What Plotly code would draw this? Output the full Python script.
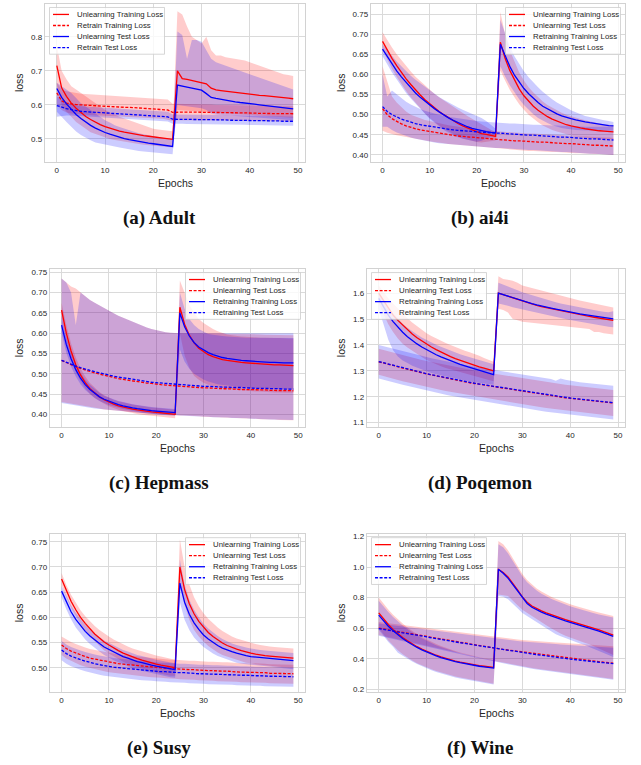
import plotly.graph_objects as go

W, H = 641, 765
epochs = list(range(50))

# ---------------- (a) Adult ----------------
a_ut = [0.715,0.650,0.625,0.605,0.590,0.577,0.566,0.557,0.549,0.542,
        0.536,0.531,0.527,0.523,0.520,0.517,0.514,0.512,0.510,0.508,
        0.506,0.504,0.502,0.501,0.499,0.700,0.677,0.675,0.672,0.669,
        0.667,0.662,0.649,0.644,0.642,0.640,0.638,0.636,0.635,0.634,
        0.631,0.630,0.628,0.627,0.626,0.625,0.623,0.621,0.620,0.618]
a_ut_hi = [0.775,0.700,0.675,0.655,0.645,0.635,0.625,0.615,0.605,0.595,
           0.585,0.578,0.571,0.565,0.560,0.555,0.550,0.545,0.540,0.535,
           0.530,0.528,0.526,0.525,0.523,0.875,0.865,0.830,0.800,0.790,
           0.780,0.800,0.760,0.745,0.745,0.740,0.738,0.735,0.732,0.730,
           0.725,0.720,0.715,0.710,0.705,0.700,0.695,0.690,0.688,0.685]
a_ut_lo = [0.660,0.600,0.580,0.565,0.550,0.540,0.530,0.520,0.515,0.510,
           0.505,0.500,0.497,0.494,0.491,0.489,0.487,0.485,0.483,0.481,
           0.480,0.478,0.477,0.476,0.475,0.585,0.585,0.584,0.583,0.582,
           0.581,0.580,0.579,0.578,0.577,0.576,0.575,0.574,0.573,0.572,
           0.571,0.570,0.569,0.568,0.567,0.566,0.565,0.564,0.563,0.562]
a_rt = [0.635,0.612,0.605,0.602,0.601,0.600,0.599,0.598,0.597,0.597,
        0.596,0.595,0.595,0.594,0.593,0.593,0.592,0.591,0.590,0.589,
        0.588,0.588,0.587,0.585,0.578,0.579,0.579,0.579,0.579,0.578,
        0.578,0.578,0.578,0.578,0.577,0.577,0.577,0.577,0.576,0.576,
        0.576,0.576,0.575,0.575,0.575,0.575,0.575,0.574,0.574,0.574]
a_rt_hi = [0.665,0.645,0.640,0.637,0.635,0.633,0.632,0.631,0.630,0.630,
           0.629,0.628,0.628,0.627,0.626,0.625,0.624,0.623,0.622,0.621,
           0.620,0.619,0.618,0.616,0.603,0.603,0.602,0.602,0.602,0.601,
           0.601,0.601,0.601,0.600,0.600,0.600,0.600,0.599,0.599,0.599,
           0.599,0.598,0.598,0.598,0.598,0.597,0.597,0.597,0.597,0.596]
a_rt_lo = [0.600,0.585,0.578,0.575,0.573,0.572,0.571,0.570,0.569,0.569,
           0.568,0.567,0.567,0.566,0.565,0.565,0.564,0.563,0.562,0.561,
           0.560,0.560,0.559,0.557,0.553,0.555,0.556,0.556,0.556,0.555,
           0.555,0.555,0.555,0.555,0.554,0.554,0.554,0.554,0.553,0.553,
           0.553,0.553,0.552,0.552,0.552,0.552,0.552,0.551,0.551,0.551]
a_ute = [0.648,0.622,0.603,0.587,0.572,0.560,0.549,0.540,0.532,0.525,
         0.519,0.514,0.509,0.505,0.501,0.498,0.495,0.493,0.490,0.488,
         0.486,0.484,0.482,0.480,0.478,0.658,0.654,0.652,0.649,0.646,
         0.643,0.633,0.622,0.619,0.616,0.613,0.611,0.609,0.607,0.606,
         0.604,0.602,0.600,0.598,0.597,0.595,0.594,0.592,0.590,0.588]
a_ute_hi = [0.665,0.655,0.645,0.635,0.620,0.605,0.595,0.585,0.575,0.565,
            0.555,0.548,0.540,0.535,0.530,0.525,0.520,0.517,0.514,0.511,
            0.508,0.505,0.503,0.501,0.500,0.815,0.805,0.735,0.790,0.790,
            0.785,0.760,0.735,0.725,0.720,0.715,0.710,0.705,0.700,0.695,
            0.690,0.685,0.680,0.675,0.670,0.665,0.660,0.655,0.650,0.645]
a_ute_lo = [0.580,0.565,0.550,0.535,0.522,0.512,0.503,0.496,0.490,0.487,
            0.484,0.482,0.478,0.475,0.472,0.469,0.467,0.465,0.463,0.461,
            0.460,0.458,0.457,0.456,0.455,0.600,0.598,0.596,0.594,0.592,
            0.590,0.585,0.575,0.572,0.570,0.568,0.567,0.566,0.565,0.564,
            0.563,0.562,0.561,0.560,0.559,0.558,0.557,0.556,0.556,0.555]
a_rte = [0.598,0.593,0.589,0.586,0.583,0.581,0.580,0.579,0.578,0.577,
         0.576,0.575,0.574,0.574,0.573,0.572,0.571,0.570,0.569,0.568,
         0.567,0.566,0.566,0.565,0.558,0.558,0.558,0.557,0.557,0.557,
         0.557,0.557,0.556,0.556,0.556,0.556,0.555,0.555,0.555,0.555,
         0.554,0.554,0.554,0.554,0.553,0.553,0.553,0.552,0.552,0.552]
a_rte_hi = [0.625,0.615,0.607,0.602,0.598,0.596,0.595,0.594,0.593,0.592,
            0.591,0.590,0.589,0.589,0.588,0.587,0.586,0.585,0.584,0.583,
            0.582,0.581,0.581,0.580,0.572,0.572,0.572,0.571,0.571,0.571,
            0.571,0.571,0.570,0.570,0.570,0.570,0.569,0.569,0.569,0.569,
            0.568,0.568,0.568,0.568,0.567,0.567,0.567,0.566,0.566,0.566]
a_rte_lo = [0.565,0.568,0.569,0.569,0.568,0.567,0.566,0.565,0.564,0.563,
            0.562,0.561,0.560,0.560,0.559,0.558,0.557,0.556,0.555,0.554,
            0.553,0.552,0.552,0.551,0.545,0.545,0.545,0.544,0.544,0.544,
            0.544,0.544,0.543,0.543,0.543,0.543,0.542,0.542,0.542,0.542,
            0.541,0.541,0.541,0.541,0.540,0.540,0.540,0.539,0.539,0.539]

# ---------------- (b) ai4i ----------------
b_ut = [0.682,0.660,0.640,0.622,0.605,0.589,0.575,0.561,0.549,0.537,
        0.527,0.517,0.508,0.500,0.492,0.485,0.478,0.472,0.467,0.462,
        0.457,0.453,0.451,0.449,0.446,0.680,0.640,0.610,0.585,0.564,
        0.547,0.533,0.521,0.511,0.502,0.495,0.489,0.484,0.479,0.475,
        0.472,0.469,0.467,0.465,0.463,0.461,0.460,0.459,0.458,0.457]
b_ut_hi = [0.705,0.685,0.667,0.650,0.635,0.620,0.607,0.594,0.583,0.572,
           0.562,0.552,0.543,0.535,0.527,0.519,0.511,0.504,0.497,0.490,
           0.483,0.476,0.470,0.463,0.456,0.755,0.700,0.660,0.630,0.605,
           0.585,0.568,0.555,0.543,0.533,0.524,0.517,0.511,0.505,0.500,
           0.496,0.492,0.489,0.486,0.483,0.480,0.478,0.476,0.475,0.474]
b_ut_lo = [0.660,0.636,0.614,0.594,0.576,0.559,0.543,0.529,0.516,0.503,
           0.492,0.482,0.473,0.465,0.458,0.452,0.446,0.441,0.438,0.435,
           0.432,0.431,0.432,0.434,0.436,0.610,0.585,0.562,0.543,0.526,
           0.512,0.500,0.490,0.481,0.473,0.467,0.462,0.458,0.454,0.451,
           0.448,0.446,0.444,0.443,0.442,0.441,0.440,0.440,0.439,0.439]
b_rtr = [0.663,0.644,0.626,0.609,0.594,0.580,0.567,0.554,0.543,0.533,
         0.524,0.515,0.507,0.499,0.492,0.486,0.480,0.475,0.470,0.466,
         0.463,0.460,0.458,0.456,0.455,0.675,0.645,0.620,0.598,0.580,
         0.565,0.552,0.540,0.530,0.521,0.514,0.507,0.502,0.497,0.493,
         0.490,0.487,0.484,0.482,0.480,0.478,0.476,0.475,0.473,0.472]
b_rtr_hi = [0.675,0.660,0.645,0.632,0.620,0.608,0.597,0.587,0.578,0.569,
            0.560,0.552,0.544,0.537,0.530,0.524,0.518,0.512,0.507,0.502,
            0.497,0.492,0.484,0.475,0.465,0.735,0.700,0.670,0.645,0.625,
            0.608,0.593,0.580,0.568,0.557,0.547,0.538,0.530,0.523,0.517,
            0.511,0.506,0.501,0.497,0.494,0.491,0.488,0.486,0.484,0.482]
b_rtr_lo = [0.645,0.625,0.605,0.587,0.570,0.554,0.540,0.527,0.514,0.502,
            0.490,0.480,0.471,0.462,0.455,0.449,0.444,0.440,0.437,0.435,
            0.433,0.435,0.440,0.445,0.448,0.620,0.595,0.573,0.554,0.538,
            0.524,0.512,0.501,0.492,0.485,0.479,0.474,0.470,0.467,0.465,
            0.463,0.462,0.461,0.460,0.460,0.460,0.460,0.460,0.460,0.460]
b_ute = [0.515,0.500,0.490,0.483,0.477,0.472,0.468,0.465,0.462,0.460,
         0.458,0.456,0.454,0.452,0.450,0.449,0.447,0.446,0.445,0.443,
         0.442,0.441,0.440,0.439,0.438,0.437,0.436,0.436,0.435,0.435,
         0.434,0.433,0.433,0.432,0.432,0.431,0.430,0.430,0.429,0.428,
         0.428,0.427,0.426,0.426,0.425,0.424,0.424,0.423,0.423,0.422]
b_ute_hi = [0.620,0.580,0.545,0.530,0.518,0.508,0.500,0.495,0.490,0.487,
            0.484,0.481,0.478,0.476,0.474,0.472,0.470,0.468,0.466,0.465,
            0.463,0.462,0.461,0.460,0.459,0.458,0.457,0.456,0.456,0.455,
            0.454,0.453,0.453,0.452,0.452,0.451,0.450,0.450,0.449,0.448,
            0.448,0.447,0.446,0.446,0.445,0.444,0.444,0.443,0.443,0.442]
b_ute_lo = [0.460,0.455,0.452,0.449,0.447,0.444,0.442,0.440,0.438,0.436,
            0.434,0.432,0.430,0.429,0.427,0.426,0.424,0.423,0.422,0.421,
            0.420,0.419,0.418,0.417,0.416,0.415,0.414,0.414,0.413,0.412,
            0.411,0.410,0.410,0.409,0.408,0.408,0.407,0.407,0.406,0.405,
            0.405,0.404,0.404,0.403,0.403,0.402,0.402,0.401,0.401,0.400]
b_rte = [0.520,0.508,0.500,0.494,0.489,0.485,0.481,0.478,0.475,0.473,
         0.471,0.469,0.467,0.465,0.464,0.462,0.461,0.460,0.459,0.458,
         0.457,0.456,0.455,0.455,0.454,0.454,0.453,0.452,0.452,0.451,
         0.450,0.449,0.449,0.448,0.447,0.446,0.446,0.445,0.444,0.444,
         0.443,0.442,0.442,0.441,0.440,0.440,0.439,0.438,0.438,0.437]
b_rte_hi = [0.600,0.545,0.560,0.550,0.540,0.532,0.525,0.519,0.514,0.510,
            0.506,0.503,0.500,0.497,0.495,0.493,0.491,0.489,0.487,0.486,
            0.484,0.483,0.482,0.481,0.480,0.480,0.479,0.478,0.478,0.477,
            0.476,0.476,0.475,0.475,0.474,0.474,0.473,0.473,0.472,0.472,
            0.471,0.471,0.470,0.470,0.470,0.470,0.469,0.469,0.469,0.470]
b_rte_lo = [0.470,0.470,0.462,0.456,0.451,0.447,0.443,0.440,0.437,0.435,
            0.433,0.431,0.429,0.428,0.427,0.425,0.424,0.423,0.422,0.421,
            0.420,0.419,0.418,0.418,0.417,0.417,0.416,0.415,0.415,0.414,
            0.413,0.412,0.412,0.411,0.410,0.409,0.409,0.408,0.407,0.407,
            0.406,0.405,0.405,0.404,0.403,0.403,0.402,0.401,0.401,0.400]

# ---------------- (c) Hepmass ----------------
c_ut = [0.657,0.600,0.556,0.522,0.497,0.478,0.463,0.452,0.443,0.436,
        0.430,0.425,0.421,0.418,0.415,0.413,0.411,0.409,0.407,0.406,
        0.405,0.404,0.403,0.402,0.400,0.664,0.622,0.595,0.576,0.563,
        0.554,0.547,0.542,0.538,0.535,0.533,0.531,0.529,0.528,0.527,
        0.526,0.525,0.524,0.524,0.523,0.522,0.522,0.521,0.521,0.520]
c_ut_hi = [0.675,0.620,0.575,0.540,0.513,0.493,0.477,0.465,0.455,0.447,
           0.441,0.436,0.432,0.429,0.426,0.424,0.422,0.420,0.418,0.417,
           0.416,0.415,0.414,0.413,0.411,0.730,0.700,0.670,0.650,0.635,
           0.625,0.617,0.610,0.605,0.600,0.597,0.595,0.593,0.592,0.591,
           0.590,0.590,0.589,0.589,0.588,0.588,0.588,0.587,0.587,0.587]
c_ut_lo = [0.640,0.582,0.538,0.505,0.482,0.464,0.450,0.440,0.432,0.426,
           0.420,0.415,0.411,0.408,0.405,0.403,0.401,0.399,0.397,0.396,
           0.395,0.394,0.393,0.392,0.390,0.600,0.545,0.515,0.495,0.485,
           0.478,0.473,0.469,0.466,0.464,0.462,0.461,0.460,0.459,0.458,
           0.457,0.456,0.456,0.455,0.455,0.454,0.454,0.454,0.453,0.453]
c_rtr = [0.620,0.572,0.537,0.510,0.489,0.473,0.461,0.451,0.443,0.437,
         0.432,0.427,0.424,0.421,0.418,0.416,0.414,0.412,0.410,0.409,
         0.408,0.407,0.406,0.405,0.404,0.650,0.616,0.593,0.577,0.566,
         0.558,0.552,0.547,0.543,0.540,0.538,0.536,0.534,0.533,0.532,
         0.531,0.530,0.529,0.529,0.528,0.528,0.527,0.527,0.527,0.527]
c_rtr_hi = [0.640,0.590,0.553,0.525,0.503,0.486,0.473,0.462,0.453,0.446,
            0.441,0.436,0.433,0.430,0.427,0.425,0.423,0.421,0.419,0.418,
            0.417,0.416,0.415,0.414,0.413,0.700,0.660,0.635,0.620,0.610,
            0.603,0.598,0.596,0.594,0.593,0.592,0.591,0.590,0.590,0.589,
            0.589,0.589,0.589,0.589,0.588,0.588,0.588,0.588,0.588,0.588]
c_rtr_lo = [0.600,0.552,0.518,0.493,0.474,0.460,0.449,0.440,0.433,0.428,
            0.423,0.419,0.416,0.413,0.410,0.408,0.406,0.404,0.402,0.401,
            0.400,0.399,0.398,0.397,0.396,0.560,0.530,0.512,0.500,0.492,
            0.486,0.481,0.477,0.474,0.472,0.470,0.469,0.468,0.467,0.466,
            0.465,0.465,0.464,0.464,0.463,0.463,0.463,0.462,0.462,0.462]
c_ute = [0.533,0.527,0.522,0.517,0.513,0.509,0.505,0.502,0.499,0.496,
         0.493,0.491,0.488,0.486,0.484,0.482,0.480,0.479,0.477,0.476,
         0.474,0.473,0.472,0.471,0.470,0.469,0.468,0.467,0.467,0.466,
         0.465,0.465,0.464,0.464,0.463,0.463,0.462,0.462,0.461,0.461,
         0.461,0.460,0.460,0.460,0.459,0.459,0.459,0.458,0.458,0.458]
c_ute_hi = [0.735,0.725,0.715,0.710,0.700,0.690,0.682,0.675,0.668,0.661,
            0.655,0.649,0.643,0.638,0.633,0.628,0.623,0.619,0.614,0.610,
            0.607,0.604,0.602,0.601,0.600,0.600,0.600,0.600,0.600,0.600,
            0.600,0.599,0.599,0.599,0.599,0.598,0.598,0.598,0.598,0.597,
            0.597,0.597,0.597,0.596,0.596,0.596,0.596,0.595,0.595,0.595]
c_ute_lo = [0.430,0.428,0.426,0.424,0.422,0.420,0.418,0.416,0.414,0.412,
            0.410,0.409,0.408,0.407,0.406,0.405,0.404,0.403,0.402,0.401,
            0.400,0.400,0.399,0.399,0.398,0.397,0.397,0.396,0.396,0.395,
            0.394,0.394,0.393,0.393,0.392,0.392,0.391,0.391,0.390,0.390,
            0.389,0.389,0.388,0.388,0.387,0.387,0.386,0.386,0.385,0.385]
c_rte = [0.533,0.528,0.523,0.519,0.515,0.511,0.508,0.505,0.502,0.499,
         0.496,0.494,0.492,0.490,0.488,0.486,0.484,0.482,0.481,0.479,
         0.478,0.477,0.476,0.475,0.474,0.473,0.472,0.471,0.470,0.470,
         0.469,0.469,0.468,0.468,0.467,0.467,0.466,0.466,0.466,0.465,
         0.465,0.464,0.464,0.464,0.463,0.463,0.463,0.462,0.462,0.462]
c_rte_hi = [0.735,0.725,0.700,0.620,0.700,0.690,0.682,0.675,0.668,0.661,
            0.655,0.649,0.643,0.638,0.633,0.628,0.623,0.619,0.614,0.610,
            0.607,0.604,0.602,0.601,0.600,0.600,0.600,0.600,0.600,0.600,
            0.600,0.600,0.600,0.600,0.600,0.600,0.600,0.600,0.600,0.600,
            0.600,0.600,0.600,0.600,0.600,0.600,0.600,0.600,0.600,0.600]
c_rte_lo = [0.428,0.426,0.424,0.422,0.420,0.418,0.416,0.414,0.412,0.411,
            0.410,0.409,0.408,0.407,0.406,0.405,0.404,0.403,0.402,0.401,
            0.400,0.399,0.399,0.398,0.398,0.397,0.396,0.396,0.395,0.395,
            0.394,0.394,0.393,0.393,0.392,0.392,0.391,0.391,0.390,0.390,
            0.389,0.389,0.388,0.388,0.387,0.387,0.386,0.386,0.386,0.386]

# ---------------- (d) Poqemon ----------------
d_ut = [1.600,1.570,1.540,1.515,1.495,1.476,1.458,1.442,1.428,1.415,
        1.403,1.392,1.382,1.372,1.363,1.355,1.347,1.340,1.333,1.327,
        1.321,1.315,1.310,1.305,1.300,1.600,1.594,1.587,1.581,1.575,
        1.569,1.564,1.558,1.553,1.548,1.544,1.539,1.535,1.531,1.527,
        1.523,1.520,1.516,1.513,1.510,1.507,1.504,1.501,1.498,1.495]
d_ut_hi = [1.630,1.605,1.580,1.560,1.540,1.520,1.503,1.487,1.472,1.458,
           1.445,1.435,1.425,1.416,1.408,1.400,1.392,1.385,1.378,1.372,
           1.366,1.358,1.350,1.342,1.335,1.665,1.655,1.652,1.648,1.640,
           1.630,1.625,1.620,1.615,1.610,1.605,1.600,1.595,1.590,1.585,
           1.580,1.576,1.572,1.568,1.564,1.560,1.557,1.553,1.549,1.545]
d_ut_lo = [1.560,1.520,1.480,1.450,1.425,1.405,1.390,1.377,1.365,1.353,
           1.342,1.333,1.325,1.318,1.311,1.305,1.299,1.294,1.289,1.284,
           1.280,1.275,1.270,1.265,1.260,1.540,1.535,1.525,1.500,1.495,
           1.490,1.488,1.486,1.484,1.482,1.480,1.478,1.476,1.474,1.472,
           1.470,1.468,1.466,1.464,1.462,1.450,1.450,1.445,1.442,1.440]
d_rtr = [1.580,1.545,1.515,1.490,1.468,1.449,1.432,1.417,1.404,1.392,
         1.381,1.371,1.362,1.354,1.346,1.339,1.332,1.325,1.319,1.313,
         1.307,1.301,1.296,1.290,1.285,1.600,1.594,1.588,1.582,1.576,
         1.570,1.565,1.560,1.555,1.550,1.546,1.542,1.538,1.534,1.530,
         1.527,1.524,1.520,1.517,1.514,1.511,1.509,1.506,1.503,1.501]
d_rtr_hi = [1.600,1.570,1.545,1.522,1.500,1.482,1.466,1.452,1.440,1.429,
            1.419,1.410,1.401,1.393,1.385,1.378,1.371,1.364,1.358,1.352,
            1.346,1.340,1.335,1.330,1.325,1.640,1.632,1.625,1.618,1.611,
            1.604,1.598,1.592,1.586,1.580,1.575,1.570,1.565,1.560,1.556,
            1.552,1.548,1.544,1.540,1.537,1.534,1.531,1.528,1.526,1.530]
d_rtr_lo = [1.540,1.480,1.420,1.380,1.355,1.340,1.330,1.320,1.312,1.305,
            1.298,1.292,1.287,1.282,1.278,1.274,1.270,1.266,1.262,1.259,
            1.256,1.253,1.250,1.248,1.246,1.560,1.556,1.551,1.546,1.541,
            1.536,1.532,1.528,1.524,1.520,1.516,1.512,1.508,1.504,1.500,
            1.496,1.492,1.488,1.485,1.482,1.479,1.476,1.473,1.470,1.468]
d_ute = [1.335,1.330,1.325,1.320,1.315,1.310,1.305,1.300,1.296,1.292,
         1.288,1.284,1.280,1.276,1.272,1.268,1.264,1.260,1.257,1.254,
         1.251,1.248,1.245,1.242,1.239,1.236,1.233,1.230,1.227,1.224,
         1.221,1.218,1.215,1.212,1.209,1.206,1.203,1.200,1.198,1.196,
         1.194,1.192,1.190,1.188,1.186,1.184,1.182,1.180,1.178,1.176]
d_ute_hi = [1.385,1.380,1.375,1.370,1.365,1.360,1.355,1.350,1.346,1.342,
            1.338,1.334,1.330,1.326,1.322,1.318,1.314,1.310,1.307,1.304,
            1.301,1.298,1.295,1.292,1.289,1.286,1.283,1.280,1.277,1.274,
            1.271,1.268,1.265,1.262,1.259,1.256,1.253,1.250,1.248,1.246,
            1.244,1.242,1.240,1.238,1.236,1.234,1.232,1.230,1.228,1.226]
d_ute_lo = [1.285,1.280,1.275,1.270,1.265,1.260,1.255,1.250,1.246,1.242,
            1.238,1.234,1.230,1.226,1.222,1.218,1.214,1.210,1.207,1.204,
            1.201,1.198,1.195,1.192,1.189,1.186,1.183,1.180,1.177,1.174,
            1.171,1.168,1.165,1.162,1.159,1.156,1.153,1.150,1.148,1.146,
            1.144,1.142,1.140,1.138,1.136,1.134,1.132,1.130,1.128,1.126]
d_rte = [1.336,1.331,1.326,1.321,1.316,1.311,1.306,1.301,1.297,1.293,
         1.289,1.285,1.281,1.277,1.273,1.269,1.265,1.261,1.258,1.255,
         1.252,1.249,1.246,1.243,1.240,1.237,1.234,1.231,1.228,1.225,
         1.222,1.219,1.216,1.213,1.210,1.207,1.204,1.201,1.199,1.197,
         1.195,1.193,1.191,1.189,1.187,1.185,1.183,1.181,1.179,1.177]
d_rte_hi = [1.400,1.395,1.390,1.385,1.380,1.375,1.370,1.365,1.361,1.357,
            1.353,1.349,1.345,1.341,1.337,1.333,1.329,1.325,1.322,1.319,
            1.316,1.313,1.310,1.307,1.304,1.301,1.298,1.295,1.292,1.289,
            1.286,1.283,1.280,1.277,1.274,1.271,1.268,1.262,1.270,1.266,
            1.262,1.258,1.256,1.254,1.252,1.250,1.248,1.246,1.244,1.242]
d_rte_lo = [1.270,1.266,1.261,1.256,1.251,1.246,1.241,1.236,1.232,1.228,
            1.224,1.220,1.216,1.212,1.208,1.204,1.200,1.196,1.193,1.190,
            1.187,1.184,1.181,1.178,1.175,1.172,1.169,1.166,1.163,1.160,
            1.157,1.154,1.151,1.148,1.145,1.142,1.139,1.136,1.134,1.132,
            1.130,1.128,1.126,1.124,1.122,1.120,1.118,1.116,1.114,1.112]

# ---------------- (e) Susy ----------------
e_ut = [0.676,0.652,0.632,0.615,0.600,0.588,0.577,0.567,0.559,0.551,
        0.545,0.539,0.534,0.529,0.525,0.521,0.518,0.515,0.512,0.510,
        0.507,0.505,0.503,0.501,0.500,0.700,0.655,0.627,0.607,0.592,
        0.580,0.570,0.562,0.555,0.549,0.544,0.540,0.537,0.534,0.531,
        0.529,0.527,0.525,0.524,0.523,0.522,0.521,0.520,0.519,0.519]
e_ut_hi = [0.688,0.664,0.645,0.628,0.614,0.602,0.592,0.583,0.575,0.568,
           0.562,0.556,0.551,0.546,0.542,0.538,0.535,0.532,0.529,0.526,
           0.524,0.522,0.520,0.518,0.516,0.755,0.700,0.665,0.640,0.622,
           0.608,0.597,0.588,0.580,0.573,0.567,0.562,0.558,0.555,0.552,
           0.549,0.547,0.545,0.543,0.542,0.541,0.540,0.539,0.538,0.538]
e_ut_lo = [0.664,0.640,0.619,0.602,0.586,0.574,0.562,0.551,0.543,0.534,
           0.528,0.522,0.517,0.512,0.508,0.504,0.501,0.498,0.495,0.494,
           0.490,0.488,0.486,0.484,0.484,0.670,0.625,0.595,0.575,0.562,
           0.552,0.543,0.536,0.530,0.525,0.521,0.518,0.516,0.513,0.510,
           0.509,0.507,0.505,0.505,0.504,0.503,0.502,0.501,0.500,0.500]
e_rtr = [0.652,0.630,0.611,0.596,0.583,0.572,0.563,0.555,0.548,0.541,
         0.536,0.531,0.526,0.522,0.519,0.515,0.512,0.510,0.507,0.505,
         0.503,0.501,0.499,0.497,0.496,0.668,0.630,0.606,0.589,0.576,
         0.565,0.557,0.550,0.544,0.539,0.535,0.532,0.529,0.526,0.524,
         0.522,0.521,0.520,0.519,0.518,0.517,0.516,0.515,0.515,0.514]
e_rtr_hi = [0.662,0.642,0.624,0.609,0.596,0.585,0.576,0.568,0.561,0.554,
            0.549,0.544,0.539,0.535,0.532,0.528,0.525,0.523,0.520,0.518,
            0.516,0.514,0.512,0.510,0.509,0.715,0.665,0.635,0.615,0.600,
            0.587,0.578,0.570,0.563,0.557,0.552,0.548,0.545,0.542,0.540,
            0.538,0.536,0.535,0.534,0.533,0.532,0.531,0.530,0.530,0.529]
e_rtr_lo = [0.640,0.616,0.596,0.580,0.567,0.556,0.547,0.539,0.532,0.525,
            0.520,0.515,0.510,0.506,0.503,0.499,0.496,0.494,0.491,0.489,
            0.487,0.485,0.483,0.481,0.480,0.630,0.595,0.575,0.560,0.550,
            0.541,0.534,0.528,0.523,0.519,0.516,0.513,0.510,0.508,0.506,
            0.505,0.504,0.503,0.502,0.501,0.500,0.499,0.498,0.498,0.497]
e_ute = [0.545,0.538,0.533,0.529,0.525,0.522,0.519,0.517,0.515,0.513,
         0.511,0.510,0.508,0.507,0.506,0.505,0.504,0.503,0.502,0.501,
         0.500,0.500,0.499,0.498,0.498,0.497,0.497,0.496,0.496,0.495,
         0.495,0.494,0.494,0.493,0.493,0.493,0.492,0.492,0.491,0.491,
         0.491,0.490,0.490,0.490,0.489,0.489,0.489,0.488,0.488,0.488]
e_ute_hi = [0.562,0.556,0.551,0.547,0.543,0.540,0.537,0.535,0.533,0.531,
            0.529,0.528,0.526,0.525,0.524,0.523,0.522,0.521,0.520,0.519,
            0.518,0.518,0.517,0.516,0.516,0.515,0.515,0.514,0.514,0.513,
            0.513,0.512,0.512,0.511,0.511,0.511,0.510,0.510,0.509,0.509,
            0.509,0.508,0.508,0.508,0.507,0.507,0.507,0.506,0.506,0.506]
e_ute_lo = [0.525,0.518,0.513,0.509,0.505,0.502,0.499,0.497,0.495,0.493,
            0.491,0.490,0.488,0.487,0.486,0.485,0.484,0.483,0.482,0.481,
            0.480,0.480,0.479,0.478,0.478,0.477,0.477,0.476,0.476,0.475,
            0.475,0.474,0.474,0.473,0.473,0.473,0.472,0.472,0.471,0.471,
            0.471,0.470,0.470,0.470,0.469,0.469,0.469,0.468,0.468,0.468]
e_rte = [0.535,0.528,0.523,0.519,0.516,0.513,0.510,0.508,0.506,0.504,
         0.503,0.501,0.500,0.499,0.498,0.497,0.496,0.495,0.494,0.494,
         0.493,0.492,0.492,0.491,0.491,0.490,0.490,0.489,0.489,0.488,
         0.488,0.487,0.487,0.487,0.486,0.486,0.486,0.485,0.485,0.485,
         0.484,0.484,0.484,0.483,0.483,0.483,0.483,0.482,0.482,0.482]
e_rte_hi = [0.553,0.546,0.541,0.537,0.534,0.531,0.528,0.526,0.524,0.522,
            0.521,0.519,0.518,0.517,0.516,0.515,0.514,0.513,0.512,0.512,
            0.511,0.510,0.510,0.509,0.509,0.508,0.508,0.507,0.507,0.506,
            0.506,0.505,0.505,0.505,0.504,0.504,0.504,0.503,0.503,0.503,
            0.502,0.502,0.502,0.501,0.501,0.501,0.501,0.500,0.500,0.500]
e_rte_lo = [0.515,0.508,0.503,0.499,0.496,0.493,0.490,0.488,0.486,0.484,
            0.483,0.481,0.480,0.479,0.478,0.477,0.476,0.475,0.474,0.474,
            0.473,0.472,0.472,0.471,0.471,0.470,0.470,0.469,0.469,0.468,
            0.468,0.467,0.467,0.467,0.466,0.466,0.466,0.465,0.465,0.465,
            0.464,0.464,0.464,0.463,0.463,0.463,0.463,0.462,0.462,0.462]

# ---------------- (f) Wine ----------------
f_ut = [0.700,0.660,0.624,0.592,0.564,0.539,0.517,0.497,0.479,0.463,
        0.448,0.435,0.423,0.412,0.402,0.393,0.385,0.378,0.371,0.365,
        0.360,0.355,0.351,0.347,0.343,0.985,0.965,0.935,0.895,0.850,
        0.805,0.770,0.745,0.728,0.713,0.700,0.688,0.677,0.666,0.656,
        0.646,0.637,0.628,0.619,0.610,0.601,0.589,0.577,0.566,0.555]
f_ut_hi = [0.800,0.760,0.722,0.688,0.658,0.630,0.605,0.582,0.561,0.542,
           0.525,0.510,0.496,0.483,0.471,0.460,0.450,0.441,0.432,0.424,
           0.417,0.410,0.404,0.398,0.393,1.170,1.150,1.110,1.060,1.005,
           0.955,0.915,0.885,0.860,0.840,0.822,0.806,0.792,0.779,0.767,
           0.756,0.746,0.736,0.727,0.718,0.710,0.702,0.695,0.688,0.680]
f_ut_lo = [0.600,0.560,0.520,0.485,0.455,0.430,0.408,0.388,0.371,0.356,
           0.343,0.331,0.320,0.310,0.301,0.292,0.284,0.277,0.270,0.264,
           0.258,0.252,0.247,0.242,0.237,0.820,0.815,0.810,0.780,0.750,
           0.720,0.700,0.680,0.660,0.640,0.620,0.600,0.580,0.565,0.550,
           0.535,0.525,0.515,0.505,0.495,0.485,0.470,0.455,0.440,0.425]
f_rtr = [0.685,0.647,0.613,0.583,0.556,0.532,0.511,0.491,0.474,0.458,
         0.444,0.431,0.419,0.408,0.398,0.389,0.381,0.374,0.367,0.361,
         0.356,0.351,0.347,0.343,0.339,0.985,0.960,0.928,0.887,0.842,
         0.797,0.762,0.737,0.720,0.705,0.692,0.680,0.669,0.658,0.648,
         0.638,0.629,0.620,0.611,0.602,0.593,0.581,0.569,0.558,0.547]
f_rtr_hi = [0.780,0.742,0.706,0.674,0.645,0.618,0.594,0.572,0.552,0.534,
            0.518,0.503,0.489,0.477,0.465,0.455,0.445,0.436,0.428,0.420,
            0.413,0.406,0.400,0.395,0.390,1.150,1.130,1.090,1.040,0.990,
            0.940,0.900,0.870,0.846,0.826,0.808,0.793,0.779,0.766,0.754,
            0.743,0.733,0.723,0.714,0.705,0.697,0.690,0.683,0.676,0.670]
f_rtr_lo = [0.590,0.550,0.510,0.478,0.440,0.425,0.402,0.382,0.365,0.350,
            0.337,0.325,0.314,0.304,0.295,0.286,0.278,0.271,0.264,0.258,
            0.252,0.247,0.242,0.237,0.232,0.810,0.805,0.790,0.760,0.730,
            0.700,0.680,0.660,0.640,0.620,0.600,0.580,0.560,0.548,0.535,
            0.522,0.510,0.500,0.490,0.480,0.466,0.452,0.438,0.425,0.412]
f_ute = [0.600,0.594,0.588,0.583,0.578,0.573,0.567,0.562,0.557,0.551,
         0.546,0.541,0.535,0.530,0.524,0.519,0.513,0.508,0.503,0.497,
         0.492,0.487,0.481,0.476,0.471,0.466,0.461,0.457,0.452,0.448,
         0.443,0.439,0.434,0.430,0.426,0.421,0.417,0.413,0.409,0.405,
         0.401,0.397,0.394,0.390,0.387,0.383,0.380,0.377,0.374,0.371]
f_ute_hi = [0.640,0.636,0.632,0.628,0.624,0.620,0.616,0.612,0.608,0.603,
            0.598,0.594,0.590,0.586,0.582,0.578,0.574,0.570,0.566,0.562,
            0.558,0.554,0.550,0.546,0.542,0.538,0.535,0.532,0.529,0.526,
            0.523,0.520,0.517,0.514,0.512,0.510,0.508,0.506,0.504,0.502,
            0.500,0.498,0.496,0.494,0.492,0.490,0.488,0.486,0.484,0.482]
f_ute_lo = [0.555,0.548,0.541,0.534,0.527,0.520,0.513,0.506,0.499,0.492,
            0.485,0.478,0.471,0.464,0.457,0.450,0.443,0.436,0.429,0.422,
            0.415,0.408,0.401,0.394,0.387,0.381,0.375,0.369,0.363,0.357,
            0.351,0.345,0.340,0.335,0.330,0.325,0.320,0.315,0.311,0.307,
            0.303,0.299,0.295,0.291,0.287,0.283,0.279,0.275,0.271,0.267]
f_rte = [0.597,0.591,0.585,0.580,0.575,0.570,0.564,0.559,0.554,0.548,
         0.543,0.538,0.532,0.527,0.521,0.516,0.510,0.505,0.500,0.494,
         0.489,0.484,0.478,0.473,0.468,0.463,0.458,0.454,0.449,0.445,
         0.440,0.436,0.431,0.427,0.423,0.418,0.414,0.410,0.406,0.402,
         0.398,0.394,0.391,0.387,0.384,0.380,0.377,0.374,0.371,0.368]
f_rte_hi = [0.630,0.626,0.622,0.618,0.614,0.610,0.606,0.602,0.598,0.593,
            0.588,0.584,0.580,0.576,0.572,0.568,0.564,0.560,0.556,0.552,
            0.548,0.544,0.540,0.536,0.532,0.528,0.525,0.522,0.519,0.516,
            0.513,0.510,0.507,0.504,0.502,0.500,0.498,0.496,0.494,0.492,
            0.490,0.488,0.486,0.484,0.482,0.480,0.478,0.476,0.474,0.472]
f_rte_lo = [0.550,0.543,0.536,0.529,0.522,0.515,0.508,0.501,0.494,0.487,
            0.480,0.473,0.466,0.459,0.452,0.445,0.438,0.431,0.424,0.417,
            0.410,0.403,0.396,0.389,0.382,0.376,0.370,0.364,0.358,0.352,
            0.346,0.340,0.335,0.330,0.325,0.320,0.315,0.310,0.306,0.302,
            0.298,0.294,0.290,0.286,0.282,0.278,0.274,0.270,0.266,0.262]

# ---------------- labels ----------------
x_ticks = [0, 10, 20, 30, 40, 50]
names_a = ["Unlearning Training Loss", "Retrain Training Loss",
           "Unlearning Test Loss", "Retrain Test Loss"]
names_std = ["Unlearning Training Loss", "Unlearning Test Loss",
             "Retraining Training Loss", "Retraining Test Loss"]
captions = ["(a) Adult", "(b) ai4i", "(c) Hepmass", "(d) Poqemon", "(e) Susy", "(f) Wine"]

RED, BLUE = "#ff0000", "#0000ff"
RED_F, BLUE_F = "rgba(255,0,0,0.2)", "rgba(0,0,255,0.2)"
SANS = "Liberation Sans, Arial, sans-serif"
SERIF = "Liberation Serif, Times New Roman, serif"
TXT = "#262626"
GRID = "#dadada"
FRAME = "#d2d2d2"
LEG_SIZE = 7.8

panels = [
    dict(box=(45, 305, 2, 161), yr=(0.432, 0.896), yt=[0.5, 0.6, 0.7, 0.8], fmt=".1f",
         names=names_a, leg="left",
         s=[(a_ut, a_ut_lo, a_ut_hi, "r", "solid"), (a_rt, a_rt_lo, a_rt_hi, "r", "dash"),
            (a_ute, a_ute_lo, a_ute_hi, "b", "solid"), (a_rte, a_rte_lo, a_rte_hi, "b", "dash")]),
    dict(box=(371, 625, 2, 161), yr=(0.382, 0.775),
         yt=[0.40, 0.45, 0.50, 0.55, 0.60, 0.65, 0.70, 0.75], fmt=".2f",
         names=names_std, leg="right",
         s=[(b_ut, b_ut_lo, b_ut_hi, "r", "solid"), (b_ute, b_ute_lo, b_ute_hi, "r", "dash"),
            (b_rtr, b_rtr_lo, b_rtr_hi, "b", "solid"), (b_rte, b_rte_lo, b_rte_hi, "b", "dash")]),
    dict(box=(50, 305, 268.5, 427.5), yr=(0.368, 0.758),
         yt=[0.40, 0.45, 0.50, 0.55, 0.60, 0.65, 0.70, 0.75], fmt=".2f",
         names=names_std, leg="right",
         s=[(c_ut, c_ut_lo, c_ut_hi, "r", "solid"), (c_ute, c_ute_lo, c_ute_hi, "r", "dash"),
            (c_rtr, c_rtr_lo, c_rtr_hi, "b", "solid"), (c_rte, c_rte_lo, c_rte_hi, "b", "dash")]),
    dict(box=(367, 625, 268.5, 427.5), yr=(1.082, 1.693),
         yt=[1.1, 1.2, 1.3, 1.4, 1.5, 1.6], fmt=".1f",
         names=names_std, leg="left",
         s=[(d_ut, d_ut_lo, d_ut_hi, "r", "solid"), (d_ute, d_ute_lo, d_ute_hi, "r", "dash"),
            (d_rtr, d_rtr_lo, d_rtr_hi, "b", "solid"), (d_rte, d_rte_lo, d_rte_hi, "b", "dash")]),
    dict(box=(50, 305, 535, 694), yr=(0.451, 0.765),
         yt=[0.50, 0.55, 0.60, 0.65, 0.70, 0.75], fmt=".2f",
         names=names_std, leg="right",
         s=[(e_ut, e_ut_lo, e_ut_hi, "r", "solid"), (e_ute, e_ute_lo, e_ute_hi, "r", "dash"),
            (e_rtr, e_rtr_lo, e_rtr_hi, "b", "solid"), (e_rte, e_rte_lo, e_rte_hi, "b", "dash")]),
    dict(box=(367, 625, 535, 694), yr=(0.18, 1.215),
         yt=[0.2, 0.4, 0.6, 0.8, 1.0, 1.2], fmt=".1f",
         names=names_std, leg="left",
         s=[(f_ut, f_ut_lo, f_ut_hi, "r", "solid"), (f_ute, f_ute_lo, f_ute_hi, "r", "dash"),
            (f_rtr, f_rtr_lo, f_rtr_hi, "b", "solid"), (f_rte, f_rte_lo, f_rte_hi, "b", "dash")]),
]

DASH = "3px,1.6px"


def fx(x):
    return x / W


def fy(y):
    return 1 - y / H


fig = go.Figure()
layout = dict(width=W, height=H, margin=dict(l=0, r=0, t=0, b=0),
              paper_bgcolor="white", plot_bgcolor="white", showlegend=False)
shapes, annotations = [], []

for i, p in enumerate(panels):
    k = "" if i == 0 else str(i + 1)
    xr, yr_ = "x" + k, "y" + k
    L, R, T, B = p["box"]
    layout["xaxis" + k] = dict(domain=[fx(L), fx(R)], anchor=yr_, range=[-2.45, 51.45],
                               tickvals=x_ticks, showgrid=True, gridcolor=GRID, gridwidth=1,
                               showline=True, mirror=True, linecolor=FRAME, linewidth=1.4,
                               zeroline=False, ticks="", fixedrange=True,
                               tickfont=dict(family=SANS, size=8, color=TXT))
    layout["yaxis" + k] = dict(domain=[fy(B), fy(T)], anchor=xr, range=list(p["yr"]),
                               tickvals=p["yt"], tickformat=p["fmt"], showgrid=True,
                               gridcolor=GRID, gridwidth=1, showline=True, mirror=True,
                               linecolor=FRAME, linewidth=1.4, zeroline=False, ticks="",
                               fixedrange=True, tickfont=dict(family=SANS, size=8, color=TXT))
    # bands
    for mean, lo, hi, c, d in p["s"]:
        fig.add_trace(go.Scatter(x=epochs + epochs[::-1], y=hi + lo[::-1], fill="toself",
                                 fillcolor=RED_F if c == "r" else BLUE_F, mode="lines",
                                 line=dict(width=0), hoverinfo="skip", xaxis=xr, yaxis=yr_))
    # lines
    for (mean, lo, hi, c, d), nm in zip(p["s"], p["names"]):
        fig.add_trace(go.Scatter(x=epochs, y=mean, mode="lines", name=nm,
                                 line=dict(color=RED if c == "r" else BLUE, width=1.3,
                                           dash="solid" if d == "solid" else DASH),
                                 xaxis=xr, yaxis=yr_))
    # axis labels
    annotations.append(dict(text="Epochs", x=fx((L + R) / 2), y=fy(B + 21), xref="paper",
                            yref="paper", showarrow=False, xanchor="center", yanchor="middle",
                            font=dict(family=SANS, size=10.5, color=TXT)))
    annotations.append(dict(text="loss", x=fx(19 if L < 200 else 341), y=fy((T + B) / 2),
                            xref="paper", yref="paper", showarrow=False, textangle=-90,
                            xanchor="center", yanchor="middle",
                            font=dict(family=SANS, size=10.5, color=TXT)))
    # caption
    annotations.append(dict(text=captions[i], x=fx(159 if L < 200 else 480), y=fy(T + 215),
                            xref="paper", yref="paper", showarrow=False, xanchor="center",
                            yanchor="middle",
                            font=dict(family=SERIF, size=19, color="#111111", weight="bold")))
    # legend box
    if p["leg"] == "left":
        x0 = L + 4.5
    else:
        x0 = R - 4.5 - 115
    x1 = x0 + 115
    y0 = T + 3.5
    y1 = y0 + 47
    shapes.append(dict(type="rect", xref="paper", yref="paper", x0=fx(x0), x1=fx(x1),
                       y0=fy(y1), y1=fy(y0), fillcolor="rgba(255,255,255,0.8)",
                       line=dict(color="#cccccc", width=0.8), layer="above"))
    for j, ((mean, lo, hi, c, d), nm) in enumerate(zip(p["s"], p["names"])):
        ry = y0 + 7 + 11.1 * j
        shapes.append(dict(type="line", xref="paper", yref="paper", x0=fx(x0 + 3.5),
                           x1=fx(x0 + 19.5), y0=fy(ry), y1=fy(ry), layer="above",
                           line=dict(color=RED if c == "r" else BLUE, width=1.3,
                                     dash="solid" if d == "solid" else DASH)))
        annotations.append(dict(text=nm, x=fx(x0 + 25), y=fy(ry), xref="paper", yref="paper",
                                showarrow=False, xanchor="left", yanchor="middle",
                                font=dict(family=SANS, size=LEG_SIZE, color=TXT)))

layout["shapes"] = shapes
layout["annotations"] = annotations
fig.update_layout(**layout)
fig.write_html("out.html")
